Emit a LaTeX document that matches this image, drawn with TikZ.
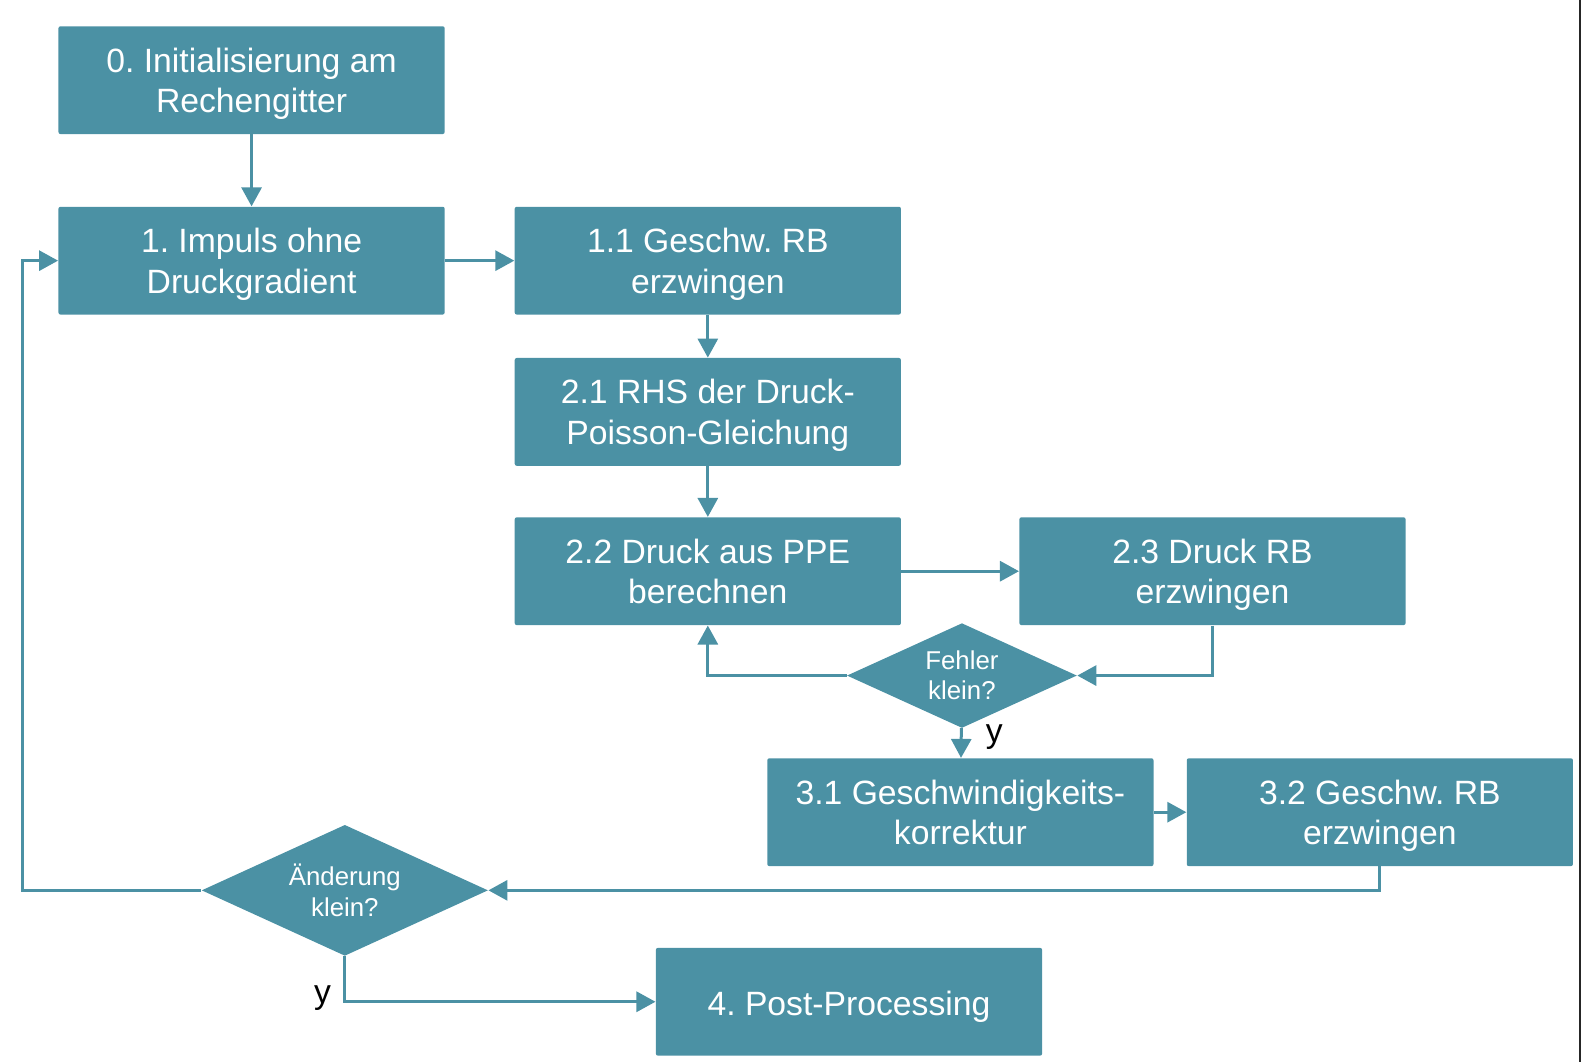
\documentclass[tikz,border=0pt]{standalone}
\usepackage{fontspec}
\setmainfont{Liberation Sans}
\usetikzlibrary{shapes.geometric,arrows.meta}
\definecolor{stepteal}{RGB}{75,145,164}
\tikzset{
    stepbox/.style={fill=stepteal,text=white,rounded corners=1pt,minimum width=193.1pt,minimum height=53.9pt,
        align=center,inner sep=0pt,font=\fontsize{16.85}{20.2}\selectfont\frenchspacing,
        text height=14pt,text depth=0pt},
    twoline/.style={text height=32.5pt,text depth=0pt},
    testbox/.style={diamond,fill=stepteal,text=white,align=center,inner sep=0pt,aspect=2.2,
        font=\fontsize{12.9}{15.1}\selectfont},
    flow/.style={draw=stepteal,line width=1.5pt,-{Triangle[width=10pt,length=9.5pt]}},
    yes/.style={font=\fontsize{16.85}{20.2}\selectfont,inner sep=0pt},
}

\begin{document}
\begin{tikzpicture}[x=0.50415pt,y=-0.50415pt]
            \useasboundingbox (0,0) rectangle (1568,1053.3);
            \draw[black!85,line width=1pt] (1567,0) -- (1567,1053.3);
            \node[stepbox,twoline] (init) at (249.5,79.5) {0. Initialisierung am\\Rechengitter};
            \node[stepbox,twoline] (impuls) at (249.5,258.5) {1. Impuls ohne\\Druckgradient};
            \node[stepbox,twoline] (geschrb) at (702,258.5) {1.1 Geschw. RB\\erzwingen};
            \node[stepbox,twoline] (rhs) at (702,408.5) {2.1 RHS der Druck-\\Poisson-Gleichung};
            \node[stepbox,twoline] (ppe) at (702,566.5) {2.2 Druck aus PPE\\berechnen};
            \node[stepbox,twoline] (druckrb) at (1202.5,566.5) {2.3 Druck RB\\erzwingen};
            \node[testbox,minimum width=115pt,minimum height=52.4pt] (fehler) at (954,670) {Fehler\\klein?};
            \node[stepbox,twoline] (korr) at (952.5,805.5) {3.1 Geschwindigkeits-\\korrektur};
            \node[stepbox,twoline] (korrrb) at (1368.5,805.5) {3.2 Geschw. RB\\erzwingen};
            \node[testbox,minimum width=143.2pt,minimum height=65.5pt] (aend) at (342,883) {Änderung\\klein?};
            \node[stepbox] (post) at (842,993.5) {4. Post-Processing};
            \coordinate (loop) at (22,883);
            \node[yes] (yfehler) at (986,731) {y};
            \node[yes] (yaend) at (320,990) {y};
            \draw[flow] (init) -- (impuls);
            \draw[flow] (impuls) -- (geschrb);
            \draw[flow] (geschrb) -- (rhs);
            \draw[flow] (rhs) -- (ppe);
            \draw[flow] (ppe) -- (druckrb);
            \draw[flow] (druckrb.south) |- (fehler.east);
            \draw[flow] (fehler.west) -| (ppe.south);
            \draw[flow] (fehler) -- (korr);
            \draw[flow] (korr) -- (korrrb);
            \draw[flow] (korrrb.south) |- (aend.east);
            \draw[flow] (aend.west) -- (loop) |- (impuls.west);
            \draw[flow] (aend.south) |- (post.west);
        \end{tikzpicture}
\end{document}
